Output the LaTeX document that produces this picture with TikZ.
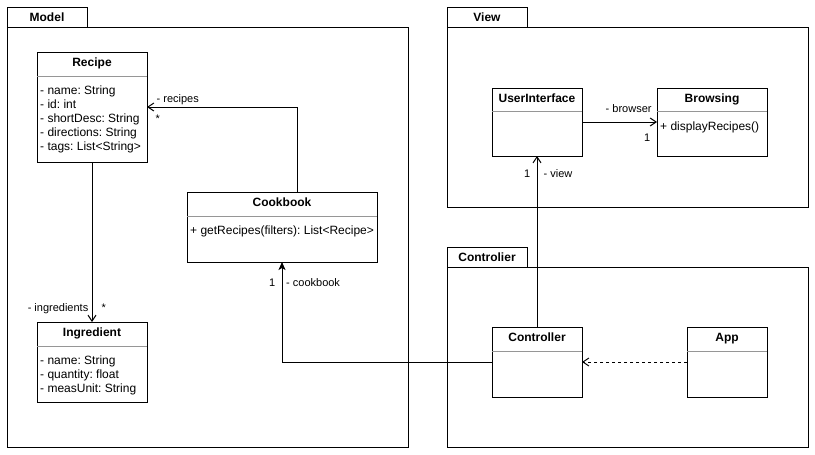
\documentclass[tikz,border=0pt]{standalone}
\usepackage{fontspec}
\setmainfont{Liberation Sans}
\frenchspacing
\usetikzlibrary{arrows.meta,calc}
\definecolor{divgray}{RGB}{150,150,150}
\tikzset{
  x=1pt, y=-1pt,
  box/.style={draw, line width=1pt, anchor=north west, inner sep=0pt, outer sep=0pt},
  ctitle/.style={anchor=base, inner sep=0pt, font=\fontsize{12}{14}\selectfont\bfseries},
  attr/.style={anchor=base west, inner sep=0pt, font=\fontsize{12}{14}\selectfont},
  elabel/.style={inner sep=0pt, font=\fontsize{11}{13}\selectfont},
  divider/.style={draw=divgray, line width=1pt},
  conn/.style={draw, line width=1pt},
  openarr/.style={conn, -{Straight Barb[length=6pt,width=8pt,line width=1pt]}},
  fillarr/.style={conn, -{Stealth[length=8pt,width=7pt,inset=2pt]}},
}
\begin{document}
\frenchspacing
\begin{tikzpicture}
\useasboundingbox (0,0) rectangle (815,455);
% ---------- packages ----------
\node[box, minimum width=80pt, minimum height=20pt] (modeltab) at (7,7) {};
\node[box, minimum width=401pt, minimum height=420pt] (model) at (7,27) {};
\node[ctitle] (modellbl) at (47,21) {Model};
\node[box, minimum width=80pt, minimum height=20pt] (viewtab) at (447,7) {};
\node[box, minimum width=361pt, minimum height=180pt] (view) at (447,27) {};
\node[ctitle] (viewlbl) at (487,21) {View};
\node[box, minimum width=80pt, minimum height=20pt] (ctrltab) at (447,247) {};
\node[box, minimum width=361pt, minimum height=180pt] (ctrl) at (447,267) {};
\node[ctitle] (ctrllbl) at (487,261) {Controlier};
% ---------- Recipe ----------
\node[box, fill=white, minimum width=110pt, minimum height=110pt] (recipe) at (37,52) {};
\node[ctitle] (recipet) at (92,66) {Recipe};
\draw[divider] (37,76) -- (147,76);
\node[attr] (ra1) at (40,94) {- name: String};
\node[attr] (ra2) at (40,108) {- id: int};
\node[attr] (ra3) at (40,122) {- shortDesc: String};
\node[attr] (ra4) at (40,136) {- directions: String};
\node[attr] (ra5) at (40,150) {- tags: List<String>};
% ---------- Cookbook ----------
\node[box, fill=white, minimum width=190pt, minimum height=70pt] (cookbook) at (187,192) {};
\node[ctitle] (cookbookt) at (282,206) {Cookbook};
\draw[divider] (187,216) -- (377,216);
\node[attr] (cm1) at (190,234) {+ getRecipes(filters): List<Recipe>};
% ---------- Ingredient ----------
\node[box, fill=white, minimum width=110pt, minimum height=80pt] (ingredient) at (37,322) {};
\node[ctitle] (ingredientt) at (92,336) {Ingredient};
\draw[divider] (37,346) -- (147,346);
\node[attr] (ia1) at (40,364) {- name: String};
\node[attr] (ia2) at (40,378) {- quantity: float};
\node[attr] (ia3) at (40,392) {- measUnit: String};
% ---------- UserInterface ----------
\node[box, fill=white, minimum width=90pt, minimum height=68pt] (ui) at (492,88) {};
\node[ctitle] (uit) at (537,102) {UserInterface};
\draw[divider] (492,111) -- (582,111);
% ---------- Browsing ----------
\node[box, fill=white, minimum width=110pt, minimum height=68pt] (browsing) at (657,88) {};
\node[ctitle] (browsingt) at (712,102) {Browsing};
\draw[divider] (657,111) -- (767,111);
\node[attr] (bm1) at (660,130) {+ displayRecipes()};
% ---------- Controller ----------
\node[box, fill=white, minimum width=90pt, minimum height=70pt] (controller) at (492,327) {};
\node[ctitle] (controllert) at (537,341) {Controller};
\draw[divider] (492,351) -- (582,351);
% ---------- App ----------
\node[box, fill=white, minimum width=80pt, minimum height=70pt] (app) at (687,327) {};
\node[ctitle] (appt) at (727,341) {App};
\draw[divider] (687,351) -- (767,351);
% ---------- connectors ----------
\draw[openarr] ($(cookbook.north)+(15,0)$) |- (recipe.east);
\node[elabel, anchor=base west] (lrec) at (156.5,102) {- recipes};
\node[elabel, anchor=base west] (lrecm) at (155.5,122) {*};
\draw[openarr] (recipe.south) -- (ingredient.north);
\node[elabel, anchor=base east] (ling) at (88.5,311) {- ingredients};
\node[elabel, anchor=base west] (lingm) at (101.5,311) {*};
\draw[fillarr] (controller.west) -| (cookbook.south);
\node[elabel, anchor=base east] (lcb1) at (275.5,286) {1};
\node[elabel, anchor=base west] (lcb) at (286,286) {- cookbook};
\draw[openarr] (controller.north) -- (ui.south);
\node[elabel, anchor=base east] (lv1) at (530.5,177.5) {1};
\node[elabel, anchor=base west] (lv) at (543.5,177.5) {- view};
\draw[openarr] (ui.east) -- (browsing.west);
\node[elabel, anchor=base west] (lbr) at (605.5,112.5) {- browser};
\node[elabel, anchor=base east] (lbr1) at (650.5,141.5) {1};
\draw[openarr, dash pattern=on 3pt off 3pt] (app.west) -- (controller.east);
\end{tikzpicture}
\end{document}
